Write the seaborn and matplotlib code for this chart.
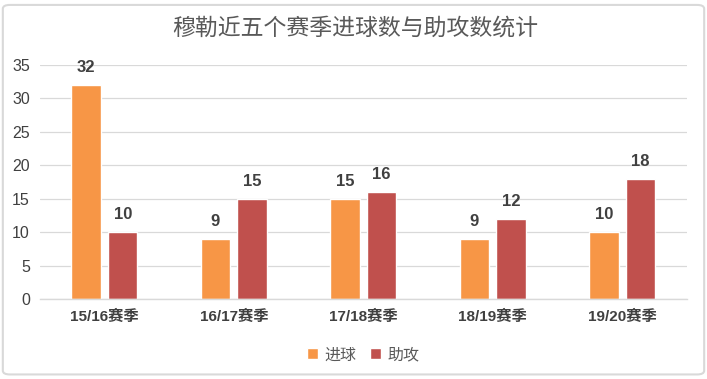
import matplotlib
matplotlib.use("Agg")
import matplotlib.pyplot as plt
import seaborn as sns
import pandas as pd
from matplotlib.patches import FancyBboxPatch

seasons = ["15/16赛季", "16/17赛季", "17/18赛季", "18/19赛季", "19/20赛季"]
goals = [32, 9, 15, 9, 10]
assists = [10, 15, 16, 12, 18]
series_names = ["进球", "助攻"]
colors = ["#F79646", "#C0504D"]

df = pd.DataFrame({
    "season": seasons * 2,
    "value": goals + assists,
    "type": [series_names[0]] * len(seasons) + [series_names[1]] * len(seasons),
})

sns.set_theme(style="white")
fam = ["Liberation Sans", "Noto Sans CJK SC", "DejaVu Sans"]
plt.rcParams["font.family"] = fam

fig = plt.figure(figsize=(7.07, 3.79), dpi=100)
ax = fig.add_axes([0.0559, 0.211, 0.9158, 0.6175])

sns.barplot(data=df, x="season", y="value", hue="type", palette=colors,
            width=0.57, gap=0.2, ax=ax, legend=True, saturation=1)

ax.set_ylim(0, 35)
ax.set_xlim(-0.5, len(seasons) - 0.5)
ax.set_yticks(range(0, 36, 5))
ax.yaxis.grid(True, color="#D9D9D9", linewidth=0.9)
ax.set_axisbelow(True)
for s in ["top", "right", "left"]:
    ax.spines[s].set_visible(False)
ax.spines["bottom"].set_color("#D9D9D9")
ax.spines["bottom"].set_linewidth(1.0)
ax.tick_params(axis="both", length=0, colors="#404040")
ax.tick_params(axis="y", labelsize=11.5, pad=7)
ax.tick_params(axis="x", labelsize=11, pad=8)
for lbl in ax.get_xticklabels():
    lbl.set_fontweight("bold")
    lbl.set_color("#404040")
for lbl in ax.get_yticklabels():
    lbl.set_color("#404040")
ax.set_xlabel("")
ax.set_ylabel("")

for cont in ax.containers:
    ax.bar_label(cont, padding=7, fontsize=12, fontweight="bold", color="#404040")

leg = ax.legend(loc="upper center", bbox_to_anchor=(0.5, -0.145), ncol=2, frameon=False,
                fontsize=11.5, handlelength=0.7, handleheight=0.7, handletextpad=0.4,
                columnspacing=0.8)
for t in leg.get_texts():
    t.set_color("#595959")

fig.text(0.502, 0.925, "穆勒近五个赛季进球数与助攻数统计", ha="center", va="center",
         fontsize=16.5, color="#595959", family=["Noto Sans CJK SC", "DejaVu Sans"],
         fontweight="light")

border = FancyBboxPatch((0.004, 0.012), 0.992, 0.975, boxstyle="round,pad=0,rounding_size=0.01",
                        transform=fig.transFigure, fill=False, edgecolor="#D9D9D9", linewidth=1.5)
fig.patches.append(border)

fig.savefig("out.png", dpi=100)
